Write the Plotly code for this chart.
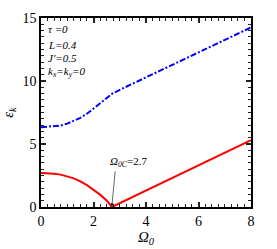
import plotly.graph_objects as go

# Data
omega_upper = [0, 0.5, 0.75, 1.0, 1.25, 1.5, 1.75, 2.0, 2.25, 2.5, 2.7, 3.0, 4.0, 5.0, 6.0, 7.0, 8.0]
eps_upper = [6.33, 6.40, 6.47, 6.62, 6.82, 7.08, 7.40, 7.80, 8.22, 8.62, 8.98, 9.30, 10.29, 11.28, 12.27, 13.26, 14.25]

omega_lower = [0, 0.25, 0.5, 0.75, 1.0, 1.25, 1.5, 1.75, 2.0, 2.25, 2.5, 2.7, 8.0]
eps_lower = [2.70, 2.69, 2.64, 2.57, 2.45, 2.27, 2.03, 1.73, 1.36, 0.98, 0.52, 0.0, 5.3]

x_ticks = [0, 2, 4, 6, 8]
y_ticks = [0, 5, 10, 15]
params = ["<i>τ =0</i>", "<i>L=0.4</i>", "<i>J'=0.5</i>", "<i>k<sub>x</sub>=k<sub>y</sub>=0</i>"]
omega_c = 2.7

FONT = "Times New Roman"

fig = go.Figure()
fig.add_trace(go.Scatter(x=omega_upper, y=eps_upper, mode="lines",
                         line=dict(color="#0000ff", width=2, dash="6px,2px,2px,2px")))
fig.add_trace(go.Scatter(x=omega_lower, y=eps_lower, mode="lines",
                         line=dict(color="#ff0000", width=2)))
# trace carrying the mirrored (top/right) tick axes
fig.add_trace(go.Scatter(x=[0, 8], y=[0, 15], xaxis="x2", yaxis="y2", mode="markers",
                         marker=dict(size=1, color="rgba(0,0,0,0)"), hoverinfo="skip"))

axis_common = dict(showline=True, linecolor="black", linewidth=1.5, mirror=True,
                   ticks="inside", ticklen=5, tickwidth=1.5, tickcolor="#222",
                   showgrid=False, zeroline=False, automargin=False,
                   tickfont=dict(family=FONT, size=14, color="black"))
xminor = dict(ticks="inside", ticklen=3, dtick=0.25, tickwidth=1.2, tickcolor="#222", showgrid=False)
yminor = dict(ticks="inside", ticklen=3, dtick=0.5, tickwidth=1.2, tickcolor="#222", showgrid=False)

fig.update_layout(
    template="none",
    xaxis=dict(range=[0, 8], tickvals=x_ticks, minor=xminor, **axis_common,
               title=dict(text="<i>Ω<sub>0</sub></i>", font=dict(family=FONT, size=15, color="black"), standoff=2)),
    yaxis=dict(range=[0, 15], tickvals=y_ticks, minor=yminor, **axis_common,
               title=dict(text="<i>ε<sub>k</sub></i>", font=dict(family=FONT, size=15, color="black"), standoff=8)),
    xaxis2=dict(range=[0, 8], tickvals=x_ticks, minor=xminor, overlaying="x", side="top",
                anchor="y", showticklabels=False, **axis_common),
    yaxis2=dict(range=[0, 15], tickvals=y_ticks, minor=yminor, overlaying="y", side="right",
                anchor="x", showticklabels=False, **axis_common),
)

# parameter labels
ys = [14.15, 12.85, 11.8, 10.75]
for t, yv in zip(params, ys):
    fig.add_annotation(x=0.2, y=yv, xref="x", yref="y", text=t, showarrow=False,
                       xanchor="left", yanchor="middle",
                       font=dict(family=FONT, size=11, color="black"))

# Arrow to critical point
fig.add_annotation(x=omega_c, y=0.05, xref="x", yref="y", ax=2.83, ay=2.95, axref="x", ayref="y",
                   text="", showarrow=True, arrowhead=2, arrowsize=1, arrowwidth=0.6, arrowcolor="black")
fig.add_annotation(x=3.33, y=3.6, xref="x", yref="y", showarrow=False,
                   text="<i>Ω<sub>0C</sub></i>=2.7", xanchor="center", yanchor="middle",
                   font=dict(family=FONT, size=11, color="black"))

fig.update_layout(width=277, height=249, margin=dict(l=41, r=26, t=18, b=42),
                  plot_bgcolor="white", paper_bgcolor="white", showlegend=False)

fig.write_html("out.html", config={"displayModeBar": False},
               post_script="document.body.style.margin='0';")
